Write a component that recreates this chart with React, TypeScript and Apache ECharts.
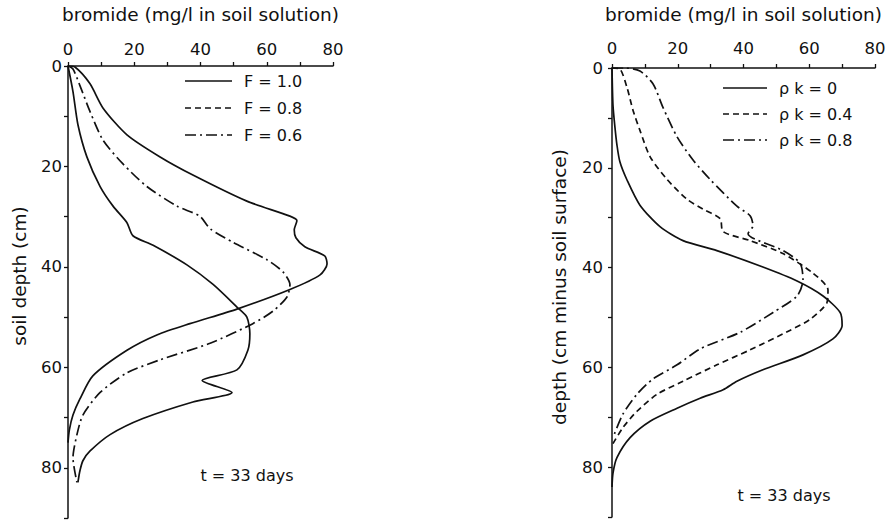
import React, { useEffect, useRef } from "react";
import * as echarts from "echarts";

// ---- data (x = bromide mg/l, y = depth cm) ----
const xTicks = [0, 20, 40, 60, 80];
const yTicks = [0, 20, 40, 60, 80];

// left panel
const leftNames = ["F = 1.0", "F = 0.8", "F = 0.6"];
const F10 = [[0,0],[2.1,0.2],[6.6,3.5],[10.6,8.4],[17.8,13.7],[27.8,18.1],[37.7,21.7],[54.0,26.9],[67.0,29.9],[69.1,30.8],[68.3,32.6],[68.8,34.2],[71.5,36.0],[77.5,37.8],[78.2,39.4],[76.1,41.6],[67.0,44.5],[51.0,48.4],[36.8,51.3],[27,53.5],[17.8,56.6],[7.5,61.7],[3.6,66.3],[1.5,69.5],[0.4,72.5],[0,75]];
const F08 = [[0,0],[1.5,5.1],[3.0,11.7],[5.7,18.1],[9.7,24.0],[13.6,27.9],[17.8,31.2],[19.6,33.8],[25.7,35.7],[35.9,39.6],[43.8,43.5],[51.0,48.0],[54.0,50.0],[54.9,53.3],[54.3,56.6],[51.0,60.5],[40.5,62.6],[49.5,65.0],[37.7,66.9],[22.6,70.2],[12.7,73.4],[6.6,76.7],[4.5,78.6],[3.6,80.6],[3.0,82.9]];
const F06 = [[0,0],[1.5,0.6],[3.6,3.9],[6.6,9.0],[10.6,14.8],[16.6,19.5],[23.8,24.0],[32.9,27.9],[39.8,29.9],[42.9,32.4],[49.8,35.1],[60.1,38.6],[64.9,41.0],[67.0,43.5],[66.1,46.0],[61.9,48.8],[55.8,51.3],[42.9,55.2],[27.8,58.5],[17.8,61.1],[9.7,65.0],[4.5,69.5],[2.7,73.4],[1.5,78.0],[2.7,82.9]];

// right panel
const rightNames = ["ρ k = 0", "ρ k = 0.4", "ρ k = 0.8"];
const PK0 = [[0,0],[0.3,7.5],[0.9,11.9],[1.5,15.4],[2.4,18.8],[4.6,22.5],[8.5,27.5],[14.6,31.8],[21.6,34.6],[31.9,36.6],[45.9,39.9],[56.3,42.7],[64.2,45.7],[69.4,49.0],[70.0,51.6],[67.2,54.3],[58.1,57.5],[45.9,60.5],[38,62.8],[33.8,64.5],[26.8,66.2],[19.8,68.2],[11.6,70.8],[5.5,74.1],[1.5,78.1],[0.3,81.2],[0,84]];
const PK04 = [[0,0],[2.4,0.2],[4.6,4.0],[6.4,8.5],[8.5,12.5],[11.6,17.8],[16.7,22.3],[22.8,26.3],[27.7,28.3],[32.9,30.2],[33.8,32.8],[42.0,34.6],[52.0,37.2],[61.1,41.1],[65.7,44.5],[65.4,47.0],[60.2,50.4],[54.1,52.6],[42.0,56.5],[31.9,59.5],[21.6,62.8],[13.7,65.4],[7.6,68.8],[3.3,72.1],[0.3,75.3]];
const PK08 = [[0,0],[4.0,0],[8.5,0.6],[12.5,3.2],[15.5,7.9],[19.8,13.8],[24.6,18.4],[29.8,22.3],[38.0,27.7],[42.0,29.6],[42.9,31.6],[41.4,33.2],[52.0,36.6],[57.2,39.1],[58.1,42.5],[56.3,45.7],[49.0,49.0],[38.9,53.0],[26.8,56.3],[19.8,59.5],[12.5,62.3],[7.6,65.4],[3.3,69.4],[0.3,74.1]];

const xTitle = "bromide (mg/l in soil solution)";
const leftYTitle = "soil depth (cm)";
const rightYTitle = "depth (cm minus soil surface)";
const timeLabel = "t = 33 days";

const FONT = "DejaVu Sans";
const INK = "#111";
const DASH = [6, 4];
const DASHDOT = [11, 4, 2, 4];

export default function App() {
  const ref = useRef<HTMLDivElement>(null);
  useEffect(() => {
    document.body.style.margin = "0";
    if (!ref.current) return;
    const chart = echarts.init(ref.current, null, { renderer: "svg" });

    const mkX = (gridIndex: number, gap: number, margin: number) => ({
      type: "value",
      gridIndex,
      position: "top",
      min: 0,
      max: 80,
      interval: 10,
      name: xTitle,
      nameLocation: "middle",
      nameGap: gap,
      nameTextStyle: { fontFamily: FONT, fontSize: 18.5, color: INK },
      axisLine: { show: true, lineStyle: { color: INK, width: 1.5 } },
      axisTick: { show: true, inside: false, length: 4, lineStyle: { color: INK, width: 1.3 } },
      axisLabel: {
        show: true,
        margin,
        fontFamily: FONT,
        fontSize: 16.5,
        color: INK,
        formatter: (v: number) => (xTicks.includes(v) ? String(v) : ""),
      },
      splitLine: { show: false },
    });
    const mkY = (gridIndex: number, margin: number) => ({
      type: "value",
      gridIndex,
      inverse: true,
      min: 0,
      max: 90,
      interval: 10,
      axisLine: { show: true, onZero: false, lineStyle: { color: INK, width: 1.5 } },
      axisTick: { show: true, inside: false, length: 4, lineStyle: { color: INK, width: 1.3 } },
      axisLabel: {
        show: true,
        margin,
        fontFamily: FONT,
        fontSize: 16.5,
        color: INK,
        formatter: (v: number) => (yTicks.includes(v) ? String(v) : ""),
      },
      splitLine: { show: false },
    });
    const mkSeries = (name: string, data: number[][], idx: number, type: any) => ({
      type: "line",
      name,
      data,
      xAxisIndex: idx,
      yAxisIndex: idx,
      symbol: "none",
      smooth: 0.25,
      lineStyle: { color: INK, width: 1.7, type },
      silent: true,
    });

    const legendItem = (x1: number, x2: number, y: number, dash: any, label: string) => [
      {
        type: "line",
        shape: { x1, y1: y, x2, y2: y },
        style: { stroke: INK, lineWidth: 1.7, lineDash: dash },
      },
      {
        type: "text",
        x: x2 + 12,
        y,
        style: { text: label, fontFamily: FONT, fontSize: 16, fill: INK, verticalAlign: "middle" },
      },
    ];

    const txt = (x: number, y: number, text: string, size: number, rotation = 0) => ({
      type: "text",
      x,
      y,
      rotation,
      style: { text, fontFamily: FONT, fontSize: size, fill: INK, align: "center", verticalAlign: "middle" },
    });

    chart.setOption({
      animation: false,
      backgroundColor: "#fff",
      grid: [
        { left: 68, top: 57, width: 265, height: 461 },
        { left: 612, top: 62, width: 263, height: 455 },
      ],
      xAxis: [mkX(0, 42, 8), mkX(1, 44, 11)],
      yAxis: [mkY(0, 6), mkY(1, 9)],
      series: [
        mkSeries(leftNames[0], F10, 0, "solid"),
        mkSeries(leftNames[1], F08, 0, "solid"),
        mkSeries(leftNames[2], F06, 0, DASHDOT),
        mkSeries(rightNames[0], PK0, 1, "solid"),
        mkSeries(rightNames[1], PK04, 1, DASH),
        mkSeries(rightNames[2], PK08, 1, DASHDOT),
      ],
      graphic: [
        ...legendItem(185, 232, 81, null, leftNames[0]),
        ...legendItem(185, 232, 108, DASH, leftNames[1]),
        ...legendItem(185, 232, 135, DASHDOT, leftNames[2]),
        ...legendItem(723, 767, 88, null, rightNames[0]),
        ...legendItem(723, 767, 114, DASH, rightNames[1]),
        ...legendItem(723, 767, 140, DASHDOT, rightNames[2]),
        txt(247, 475, timeLabel, 16),
        txt(784, 495, timeLabel, 16),
        txt(19, 276, leftYTitle, 18.5, Math.PI / 2),
        txt(559, 287, rightYTitle, 18.5, Math.PI / 2),
      ],
    });
    return () => chart.dispose();
  }, []);
  return <div ref={ref} style={{ width: 895, height: 520 }} />;
}
